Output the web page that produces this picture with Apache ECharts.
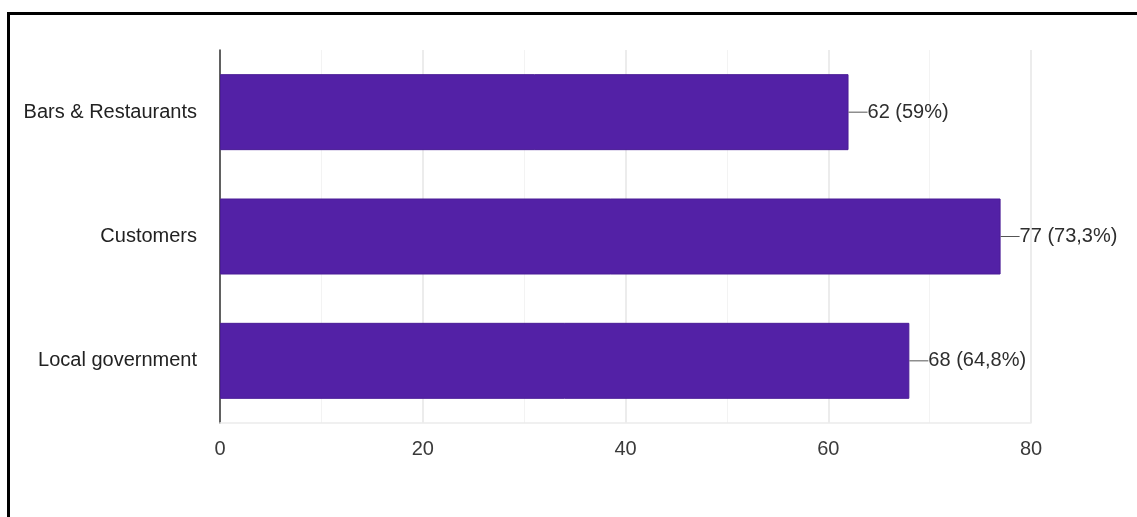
<!DOCTYPE html>
<html>
<head>
<meta charset="utf-8">
<script src="https://cdn.jsdelivr.net/npm/echarts@6/dist/echarts.min.js"></script>
<style>
  html, body { margin: 0; padding: 0; background: #fff; }
  #wrap { position: relative; width: 1137px; height: 517px; overflow: hidden; }
  #frame { position: absolute; left: 7px; top: 12px; width: 1200px; height: 600px;
           border-top: 3px solid #000; border-left: 3px solid #000; box-sizing: border-box; }
  #chart { position: absolute; left: 0; top: 0; width: 1137px; height: 517px; }
</style>
</head>
<body>
<div id="wrap">
  <div id="frame"></div>
  <div id="chart"></div>
</div>
<script>
const categories = ['Bars & Restaurants', 'Customers', 'Local government'];
const counts = [62, 77, 68];
const percents = ['59%', '73,3%', '64,8%'];
const xTicks = [0, 20, 40, 60, 80];

const chart = echarts.init(document.getElementById('chart'), null, { renderer: 'canvas' });
chart.setOption({
  backgroundColor: 'transparent',
  animation: false,
  grid: { left: 220, right: 106, top: 50, bottom: 94, containLabel: false },
  xAxis: {
    type: 'value',
    min: xTicks[0],
    max: xTicks[xTicks.length - 1],
    interval: 20,
    axisLine: { show: true, lineStyle: { color: '#ececec', width: 1.5 } },
    axisTick: { show: false },
    axisLabel: { color: '#3a3a3a', fontSize: 20, fontFamily: 'Liberation Sans, Arial, sans-serif', margin: 16 },
    splitLine: { show: true, lineStyle: { color: '#e6e6e6', width: 1.5 } },
    minorTick: { show: false, splitNumber: 2 },
    minorSplitLine: { show: true, lineStyle: { color: '#f3f3f3', width: 1 } }
  },
  yAxis: {
    type: 'category',
    inverse: true,
    data: categories,
    axisLine: { show: true, lineStyle: { color: '#333', width: 1.5 } },
    axisTick: { show: false },
    axisLabel: { color: '#222', fontSize: 20, fontFamily: 'Liberation Sans, Arial, sans-serif', margin: 23 }
  },
  series: [{
    type: 'bar',
    data: counts,
    barWidth: 76,
    itemStyle: { color: '#5321a6', borderColor: '#4a1c96', borderWidth: 1 },
    label: {
      show: true,
      position: 'right',
      distance: 0,
      color: '#2e2e2e',
      fontSize: 20,
      fontFamily: 'Liberation Sans, Arial, sans-serif',
      formatter: p => '{l|}' + counts[p.dataIndex] + ' (' + percents[p.dataIndex] + ')',
      rich: {
        l: { width: 19, height: 1, backgroundColor: '#555', verticalAlign: 'middle' }
      }
    }
  }]
});
</script>
</body>
</html>
